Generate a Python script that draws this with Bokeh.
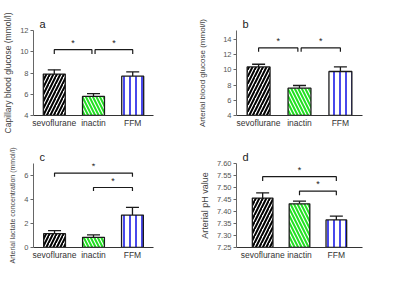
import numpy as np
from bokeh.plotting import figure
from bokeh.layouts import gridplot
from bokeh.models import Range1d, FixedTicker, ColumnDataSource, Whisker, TeeHead, NumeralTickFormatter
from bokeh.core.properties import value
from bokeh.embed import file_html
from bokeh.resources import INLINE

categories = ["sevoflurane", "inactin", "FFM"]

# panel a: capillary blood glucose (mmol/l)
cap_glucose_mean = [7.9, 5.8, 7.7]
cap_glucose_err = [0.4, 0.25, 0.4]
# panel b: arterial blood glucose (mmol/l)
art_glucose_mean = [10.4, 7.6, 9.8]
art_glucose_err = [0.35, 0.35, 0.6]
# panel c: arterial lactate (mmol/l)
lactate_mean = [1.15, 0.85, 2.7]
lactate_err = [0.25, 0.2, 0.65]
# panel d: arterial pH
ph_mean = [7.456, 7.432, 7.365]
ph_err = [0.022, 0.011, 0.016]

# significance brackets: (from index, to index, bracket level, leg bottom)
brackets_a = [(0, 1, 10.2, 9.8), (1, 2, 10.2, 9.8)]
brackets_b = [(0, 1, 12.9, 12.4), (1, 2, 12.9, 12.4)]
brackets_c = [(0, 2, 6.2, 5.9), (1, 2, 5.0, 4.7)]
brackets_d = [(0, 2, 7.545, 7.527), (1, 2, 7.485, 7.468)]

FONT = "Liberation Sans"
fills = [("#000000", "right_diagonal_line", 7, 2.0),
         ("#22e022", "left_diagonal_line", 7, 2.0),
         ("#1a1ae6", "vertical_line", 6, 1.6)]


def panel(letter, ylabel, means, errs, brackets, y0, y1, yticks, pad, borders,
          ylabel_size, ylabel_standoff, fmt=None, adjacent=False):
    left, right, top, bottom = borders
    p = figure(width=192, height=138, output_backend="svg", toolbar_location=None,
               min_border_left=left, min_border_right=right,
               min_border_top=top, min_border_bottom=bottom,
               x_range=Range1d(-0.5 - pad, 2.5 + pad), y_range=Range1d(y0, y1))
    p.outline_line_color = None
    p.grid.visible = False
    p.background_fill_color = None
    p.border_fill_color = None
    p.title.text = letter
    p.title.text_font = FONT
    p.title.text_font_size = "11px"
    p.title.text_font_style = "normal"
    p.title.text_color = "#222222"
    p.title.align = "left"
    p.title.offset = 6
    p.title.standoff = 1

    xs = np.arange(len(categories))
    for i in range(len(categories)):
        col, pat, sc, w = fills[i]
        p.vbar(x=[xs[i]], top=[means[i]], bottom=y0, width=0.56,
               fill_color="white", line_color="#1a1a1a", line_width=1.3,
               hatch_pattern=pat, hatch_color=col, hatch_scale=sc, hatch_weight=w)
    src = ColumnDataSource(dict(x=xs, lo=means, hi=[m + e for m, e in zip(means, errs)]))
    wh = Whisker(source=src, base="x", lower="lo", upper="hi", line_color="#1a1a1a",
                 line_width=1.3, lower_head=None,
                 upper_head=TeeHead(size=13, line_color="#1a1a1a", line_width=1.3))
    p.add_layout(wh)

    for (i, j, yb, yl) in brackets:
        g = 0.04 if adjacent else 0.0
        xa = xs[i] + (g if (adjacent and i == 1) else 0)
        xb = xs[j] - (g if (adjacent and j == 1) else 0)
        p.line(x=[xa, xa, xb, xb], y=[yl, yb, yb, yl], line_color="#1a1a1a", line_width=1.2)
        p.text(x=[(xa + xb) / 2], y=[yb], text=["*"], text_font=value(FONT),
               text_font_size="9px", text_align="center", text_baseline="bottom",
               y_offset=-2, text_color="#1a1a1a")

    xa_ = p.xaxis[0]
    xa_.ticker = FixedTicker(ticks=list(xs))
    xa_.major_label_overrides = {int(i): c for i, c in enumerate(categories)}
    xa_.major_tick_out = 0
    xa_.major_tick_in = 0
    xa_.minor_tick_out = 0
    xa_.minor_tick_in = 0
    xa_.axis_line_color = "#333333"
    xa_.axis_line_width = 1.2
    xa_.major_label_text_font = FONT
    xa_.major_label_text_font_size = "8.5px"
    xa_.major_label_text_color = "#333333"
    xa_.major_label_standoff = 2

    ya = p.yaxis[0]
    ya.ticker = FixedTicker(ticks=yticks)
    if fmt:
        ya.formatter = NumeralTickFormatter(format=fmt)
    ya.major_tick_out = 3
    ya.major_tick_in = 0
    ya.minor_tick_out = 0
    ya.minor_tick_in = 0
    ya.axis_line_color = "#666666"
    ya.major_tick_line_color = "#666666"
    ya.major_label_text_font = FONT
    ya.major_label_text_font_size = "7.5px"
    ya.major_label_text_color = "#555555"
    ya.major_label_standoff = 2
    ya.axis_label = ylabel
    ya.axis_label_text_font = FONT
    ya.axis_label_text_font_style = "normal"
    ya.axis_label_text_font_size = ylabel_size
    ya.axis_label_text_color = "#444444"
    ya.axis_label_standoff = ylabel_standoff
    return p


pa = panel("a", "Capillary blood glucose (mmol/l)", cap_glucose_mean, cap_glucose_err,
           brackets_a, 4, 12, [4, 6, 8, 10, 12], 0.03, (29, 35, 26, 23), "8.5px", 4, adjacent=True)
pb = panel("b", "Arterial blood glucose (mmol/l)", art_glucose_mean, art_glucose_err,
           brackets_b, 4, 15.2, [4, 6, 8, 10, 12, 14], 0.04, (44, 22, 30, 23), "8px", 13, adjacent=True)
pc = panel("c", "Arterial lactate concentration (mmol/l)", lactate_mean, lactate_err,
           brackets_c, 0, 7, [0, 2, 4, 6], 0.04, (28, 39, 25, 29), "7px", 5)
pd_ = panel("d", "Arterial pH value", ph_mean, ph_err,
            brackets_d, 7.25, 7.60, [7.25, 7.30, 7.35, 7.40, 7.45, 7.50, 7.55, 7.60], 0.21,
            (43, 19, 25, 29), "9px", 4, fmt="0.00")

grid = gridplot([[pa, pb], [pc, pd_]], toolbar_location=None)
open("out.html", "w").write(file_html(grid, INLINE))
